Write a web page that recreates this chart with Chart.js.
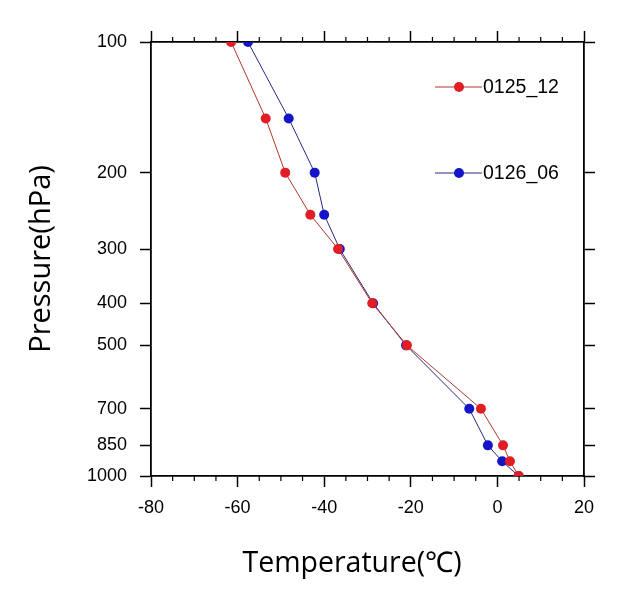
<!DOCTYPE html>
<html>
<head>
<meta charset="utf-8">
<script src="https://cdn.jsdelivr.net/npm/chart.js@4"></script>
<style>
    html, body { margin: 0; padding: 0; background: #fff; }
    #wrap { width: 617px; height: 589px; }
</style>
</head>
<body>
<div id="wrap"><canvas id="myChart"></canvas></div>
<script>
const pressureLevels = [100, 150, 200, 250, 300, 400, 500, 700, 850, 925, 1000];
const temp0125_12 = [-61.5, -53.5, -49.0, -43.2, -36.8, -28.9, -20.9, -3.8, 1.3, 2.9, 4.9];
const temp0126_06 = [-57.6, -48.2, -42.2, -40.0, -36.4, -28.7, -21.1, -6.5, -2.2, 1.1, 4.9];
const seriesNames = ['0125_12', '0126_06'];
const pressureTicks = [100, 200, 300, 400, 500, 700, 850, 1000];
const tempTicks = [-80, -60, -40, -20, 0, 20];

const markerColors = ['rgb(225, 30, 35)', 'rgb(20, 20, 200)'];
const lineColors = ['rgb(175, 55, 45)', 'rgb(40, 40, 130)'];

const tickFont = { family: '"Liberation Sans", Arial, sans-serif', size: 18 };
const titleFont = { family: '"Open Sans", sans-serif', size: 29 };

const toPoints = (temps) => temps.map((t, i) => ({ x: t, y: pressureLevels[i] }));

const data = {
    datasets: [0, 1].map(i => ({
        label: seriesNames[i],
        data: toPoints(i === 0 ? temp0125_12 : temp0126_06),
        showLine: true,
        borderColor: lineColors[i],
        borderWidth: 1,
        backgroundColor: markerColors[i],
        pointBackgroundColor: markerColors[i],
        pointBorderColor: markerColors[i],
        pointBorderWidth: 0,
        pointRadius: 5,
        tension: 0
    }))
};

const axisBorder = { display: true, color: '#000', width: 1.8 };
const tickGrid = { drawOnChartArea: false, drawTicks: true, tickLength: 11, tickColor: '#000', tickWidth: 1.5 };

// minor ticks, x title and the in-plot legend
const extras = {
    id: 'extras',
    afterDraw(chart) {
        const { ctx, chartArea, scales } = chart;
        const x = scales.x;
        ctx.save();
        ctx.strokeStyle = '#000';
        ctx.lineWidth = 1.2;
        for (let t = x.min; t <= x.max; t += 5) {
            if (tempTicks.includes(t)) continue;
            const px = x.getPixelForValue(t);
            ctx.beginPath();
            ctx.moveTo(px, chartArea.bottom);
            ctx.lineTo(px, chartArea.bottom + 5);
            ctx.moveTo(px, chartArea.top);
            ctx.lineTo(px, chartArea.top - 5);
            ctx.stroke();
        }

        ctx.fillStyle = '#000';
        ctx.font = '28.5px ' + titleFont.family;
        ctx.textAlign = 'center';
        ctx.textBaseline = 'alphabetic';
        ctx.fillText('Temperature(℃)', 352, 572);

        ctx.font = '19.5px ' + tickFont.family;
        ctx.textAlign = 'left';
        ctx.textBaseline = 'middle';
        [87, 173].forEach((ly, i) => {
            ctx.strokeStyle = lineColors[i];
            ctx.lineWidth = 1;
            ctx.beginPath();
            ctx.moveTo(435, ly);
            ctx.lineTo(482, ly);
            ctx.stroke();
            ctx.fillStyle = markerColors[i];
            ctx.beginPath();
            ctx.arc(459, ly, 5, 0, Math.PI * 2);
            ctx.fill();
            ctx.fillStyle = '#000';
            ctx.fillText(seriesNames[i], 483, ly + 1);
        });
        ctx.restore();
    }
};

const setTemp = (scale) => { scale.ticks = tempTicks.map(v => ({ value: v })); };
const setPres = (scale) => { scale.ticks = pressureTicks.map(v => ({ value: v })); };

const config = {
    type: 'scatter',
    data: data,
    options: {
        responsive: true,
        maintainAspectRatio: false,
        animation: false,
        layout: { padding: 0 },
        plugins: {
            legend: { display: false },
            tooltip: { enabled: false }
        },
        scales: {
            x: {
                type: 'linear',
                position: 'bottom',
                min: -80,
                max: 20,
                afterBuildTicks: setTemp,
                afterFit: (s) => { s.height = 113; },
                ticks: { color: '#000', font: tickFont, padding: 10, maxRotation: 0, autoSkip: false },
                grid: tickGrid,
                border: axisBorder
            },
            x2: {
                type: 'linear',
                position: 'top',
                min: -80,
                max: 20,
                afterBuildTicks: setTemp,
                afterFit: (s) => { s.height = 42; },
                ticks: { display: false },
                grid: tickGrid,
                border: axisBorder
            },
            y: {
                type: 'logarithmic',
                position: 'left',
                min: 100,
                max: 1000,
                reverse: true,
                afterBuildTicks: setPres,
                afterFit: (s) => { s.width = 151; },
                ticks: {
                    color: '#000',
                    font: tickFont,
                    padding: 13,
                    autoSkip: false,
                    callback: (v) => String(v)
                },
                grid: tickGrid,
                border: axisBorder,
                title: {
                    display: true,
                    text: 'Pressure(hPa)',
                    color: '#000',
                    font: titleFont,
                    padding: { top: 24 }
                }
            },
            y2: {
                type: 'logarithmic',
                position: 'right',
                min: 100,
                max: 1000,
                reverse: true,
                afterBuildTicks: setPres,
                afterFit: (s) => { s.width = 33; },
                ticks: { display: false },
                grid: tickGrid,
                border: axisBorder
            }
        }
    },
    plugins: [extras]
};

const myChart = new Chart(
    document.getElementById('myChart'),
    config
);
</script>
</body>
</html>
